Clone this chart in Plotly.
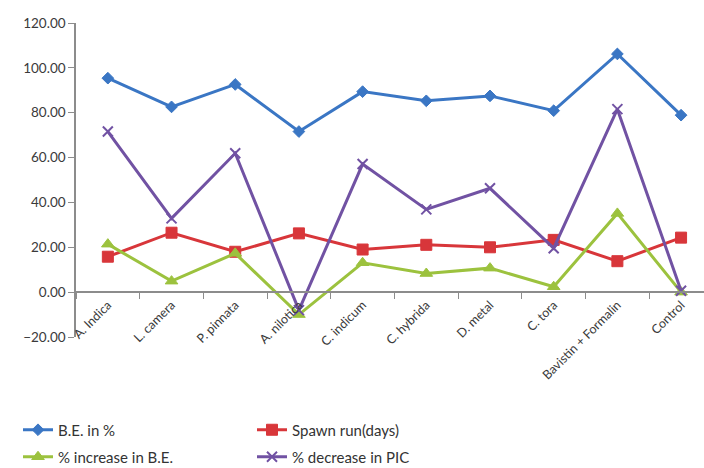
import plotly.graph_objects as go

# Treatments on the category axis
treatments = ["A. Indica", "L. camera", "P. pinnata", "A. nilotica", "C. indicum",
              "C. hybrida", "D. metal", "C. tora", "Bavistin + Formalin", "Control"]

# Series values
be_percent = [95.4, 82.6, 92.6, 71.6, 89.4, 85.3, 87.5, 80.9, 106.2, 78.9]
spawn_run_days = [15.8, 26.5, 18.0, 26.2, 19.0, 21.1, 20.0, 23.3, 13.8, 24.3]
increase_be = [21.4, 4.9, 17.3, -10.0, 13.1, 8.3, 10.7, 2.4, 35.1, 0.0]
decrease_pic = [71.6, 32.9, 61.9, -8.0, 57.1, 36.9, 46.3, 19.6, 81.6, 0.6]

y_ticks = [-20, 0, 20, 40, 60, 80, 100, 120]

font_family = "Lato, 'Open Sans', sans-serif"
axis_grey = "#8c8c8c"

# name, values, colour, marker symbol, marker size, marker outline, legend row
series = [
    ("B.E. in %", be_percent, "#3a76c4", "diamond", 9, 1, "legend"),
    ("Spawn run(days)", spawn_run_days, "#d8363a", "square", 11, 1, "legend"),
    ("% increase in B.E.", increase_be, "#9cc23e", "triangle-up", 11, 1, "legend2"),
    ("% decrease in PIC", decrease_pic, "#7152a3", "x-thin-open", 10, 2, "legend2"),
]

fig = go.Figure()
for name, values, color, symbol, size, lw, legend_row in series:
    fig.add_trace(go.Scatter(
        x=treatments, y=values, name=name, mode="lines+markers",
        legend=legend_row,
        line=dict(color=color, width=3),
        marker=dict(symbol=symbol, size=size, color=color,
                    line=dict(color=color, width=lw)),
    ))

legend_style = dict(
    orientation="h", xref="container", yref="container",
    x=18 / 704, xanchor="left", yanchor="middle",
    entrywidth=189, entrywidthmode="pixels",
    font=dict(size=15, color="#333333"),
    itemwidth=30, bgcolor="rgba(0,0,0,0)",
)

fig.update_layout(
    width=704, height=468,
    margin=dict(l=76, r=0, t=23, b=131, autoexpand=False),
    paper_bgcolor="white", plot_bgcolor="white",
    font=dict(family=font_family, color="#3a3a3a", size=13),
    showlegend=True,
    legend=dict(y=1 - 430 / 468, **legend_style),
    legend2=dict(y=1 - 457 / 468, **legend_style),
    xaxis=dict(
        type="category", range=[-0.5, 9.36],
        anchor="free", position=20 / 140,
        showline=True, linecolor=axis_grey, linewidth=1.5,
        ticks="outside", tickson="boundaries", ticklen=6, tickcolor=axis_grey,
        tickangle=-45, tickfont=dict(size=12.5, color="#3a3a3a"),
        showgrid=False, zeroline=False,
    ),
    yaxis=dict(
        range=[-20, 120], tickvals=y_ticks, tickformat=".2f",
        showline=True, linecolor=axis_grey, linewidth=1.5,
        ticks="outside", ticklen=6, tickcolor=axis_grey,
        tickfont=dict(size=13.5, color="#3a3a3a"),
        showgrid=False, zeroline=False,
    ),
)

fig.write_html("out.html")
